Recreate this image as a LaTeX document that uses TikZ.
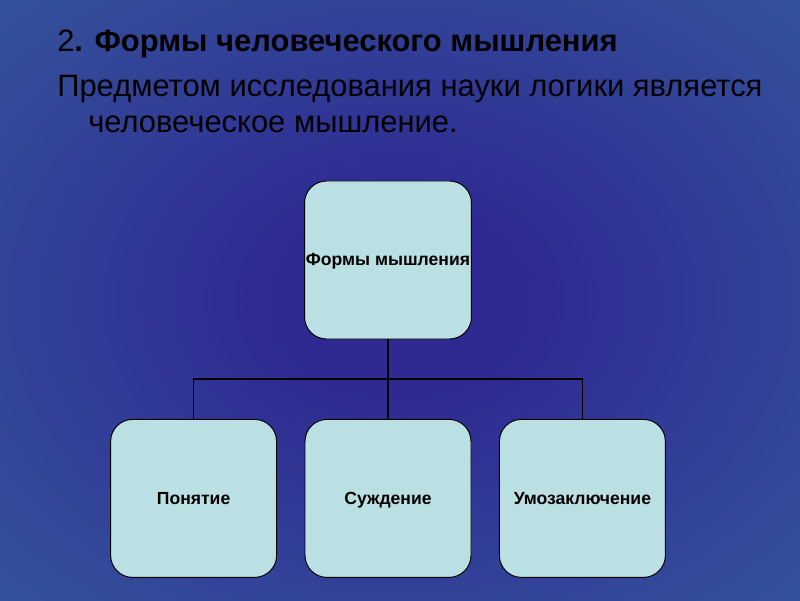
\documentclass[tikz,border=0pt]{standalone}
\usepackage{fontspec}
\setmainfont{Liberation Sans}
\usetikzlibrary{positioning}

\definecolor{boxfill}{RGB}{187,224,228}
\definecolor{bginner}{RGB}{46,42,146}
\definecolor{bgouter}{RGB}{56,104,160}

\pgfdeclareradialshading{bgshade}{\pgfpoint{0bp}{0bp}}{%
	color(0bp)=(bginner); color(8bp)=(bginner); color(50bp)=(bgouter); color(72bp)=(bgouter)}

\tikzset{
	formbox/.style={draw, rectangle, rounded corners=.55cm, fill=boxfill,
		minimum width=4.15cm, minimum height=3.95cm, inner sep=1pt, line width=.7pt,
		text height=9.4pt, text depth=1pt,
		font=\fontsize{12.5}{14}\selectfont\bfseries},
	headline/.style={anchor=base west, inner sep=0pt, font=\fontsize{22}{26}\selectfont}
}

\begin{document}
\begin{tikzpicture}
	\def\xmid{9.7}   % x of the middle column
	\def\xgap{4.86}  % Horizontal gap between boxes
	\def\ytop{8.5}   % y of the top box
	\def\ybot{2.54}  % y of the bottom row
	\def\ybus{5.525} % y of the horizontal line
	
	% Background
	\shade[shading=bgshade] (0,0) rectangle (20,15);
	\useasboundingbox (0,0) rectangle (20,15);
	
	% Heading
	\node[headline] (title) at (1.425,13.7) {2\textbf{. Формы человеческого мышления}};
	\node[headline] (line1) at (1.425,12.575) {Предметом исследования науки логики является};
	\node[headline] (line2) at (2.2,11.675) {человеческое мышление.};
	
	% Boxes
	\node[formbox] (top) at (\xmid,\ytop) {Формы мышления};
	\foreach \i/\name/\txt in {-1/left/Понятие, 0/mid/Суждение, 1/right/Умозаключение} {
		\node[formbox] (\name) at (\xmid + \i * \xgap, \ybot) {\txt};
	}
	
	% Connectors
	\coordinate (bus) at (\xmid,\ybus);
	\foreach \name in {left, mid, right} {
		\draw[line width=1pt] (top.south) -- (top.south |- bus) -| (\name.north);
	}
\end{tikzpicture}
\end{document}
